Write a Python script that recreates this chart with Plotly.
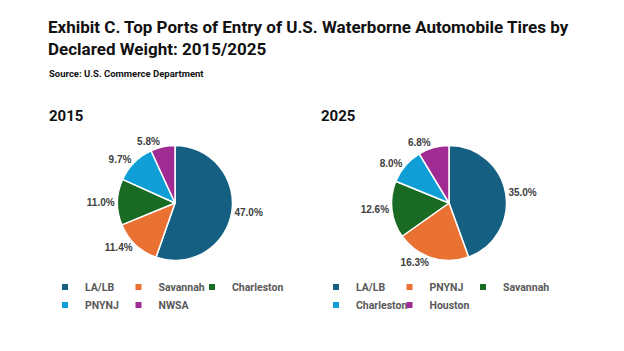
import plotly.graph_objects as go

ports_2015 = ["LA/LB", "Savannah", "Charleston", "PNYNJ", "NWSA"]
share_2015 = [47.0, 11.4, 11.0, 9.7, 5.8]
ports_2025 = ["LA/LB", "PNYNJ", "Savannah", "Charleston", "Houston"]
share_2025 = [35.0, 16.3, 12.6, 8.0, 6.8]
slice_colors = ["#156082", "#E97132", "#196B24", "#0F9ED5", "#A02B93"]

title_text = ("<b>Exhibit C. Top Ports of Entry of U.S. Waterborne Automobile Tires by<br>"
              "Declared Weight: 2015/2025</b>")
source_text = "<b>Source: U.S. Commerce Department</b>"

W, H = 624, 351
FONT = "Roboto"
LABEL_COLOR = "#404040"
LEGEND_COLOR = "#595959"

fig = go.Figure()

def pie_domain(cx, cy, r):
    return dict(x=[(cx - r) / W, (cx + r) / W], y=[1 - (cy + r) / H, 1 - (cy - r) / H])

for labels, values, cx in [(ports_2015, share_2015, 175), (ports_2025, share_2025, 449)]:
    fig.add_trace(go.Pie(
        labels=labels, values=values,
        text=[f"{v:.1f}%" for v in values],
        textinfo="text", textposition="outside",
        outsidetextfont=dict(family="Arial", size=10, color=LABEL_COLOR, weight="bold"),
        marker=dict(colors=slice_colors, line=dict(color="white", width=1.5)),
        sort=False, direction="clockwise", rotation=0,
        domain=pie_domain(cx, 203, 57.5),
        showlegend=False, hoverinfo="label+text",
    ))

# legend grid: items laid out 3 per row, ~73 px apart, one legend per item
legend_layout = {}
legend_idx = 0
for names, x0 in [(ports_2015, 75), (ports_2025, 346)]:
    for i, (n, c) in enumerate(zip(names, slice_colors)):
        legend_idx += 1
        lg = "legend" if legend_idx == 1 else f"legend{legend_idx}"
        mx = x0 + (i % 3) * 73.5
        my = 287 + (i // 3) * 18
        fig.add_trace(go.Scatter(
            x=[None], y=[None], mode="markers", name=n, legend=lg,
            marker=dict(symbol="square", size=6, color=c), showlegend=True,
            hoverinfo="skip",
        ))
        legend_layout[lg] = dict(
            orientation="h", x=(mx - 30) / W, y=1 - my / H,
            xanchor="left", yanchor="middle", itemwidth=30,
            font=dict(family=FONT, size=10.5, color=LEGEND_COLOR, weight="bold"),
            bgcolor="rgba(0,0,0,0)", borderwidth=0,
        )

fig.update_layout(
    width=W, height=H,
    margin=dict(l=0, r=0, t=0, b=0),
    paper_bgcolor="white", plot_bgcolor="white",
    xaxis=dict(visible=False), yaxis=dict(visible=False),
    title=dict(text=title_text, x=48 / W, xanchor="left", y=1 - 33 / H, yanchor="top",
               font=dict(family=FONT, size=17, color="#111111")),
    annotations=[
        dict(text=source_text, x=47 / W, y=1 - 73 / H, xref="paper", yref="paper",
             xanchor="left", yanchor="middle", showarrow=False,
             font=dict(family=FONT, size=9.5, color="#111111")),
        dict(text="<b>2015</b>", x=47 / W, y=1 - 116 / H, xref="paper", yref="paper",
             xanchor="left", yanchor="middle", showarrow=False,
             font=dict(family=FONT, size=15, color="#111111")),
        dict(text="<b>2025</b>", x=319 / W, y=1 - 116 / H, xref="paper", yref="paper",
             xanchor="left", yanchor="middle", showarrow=False,
             font=dict(family=FONT, size=15, color="#111111")),
    ],
    **legend_layout,
)

fig.write_html("out.html")
